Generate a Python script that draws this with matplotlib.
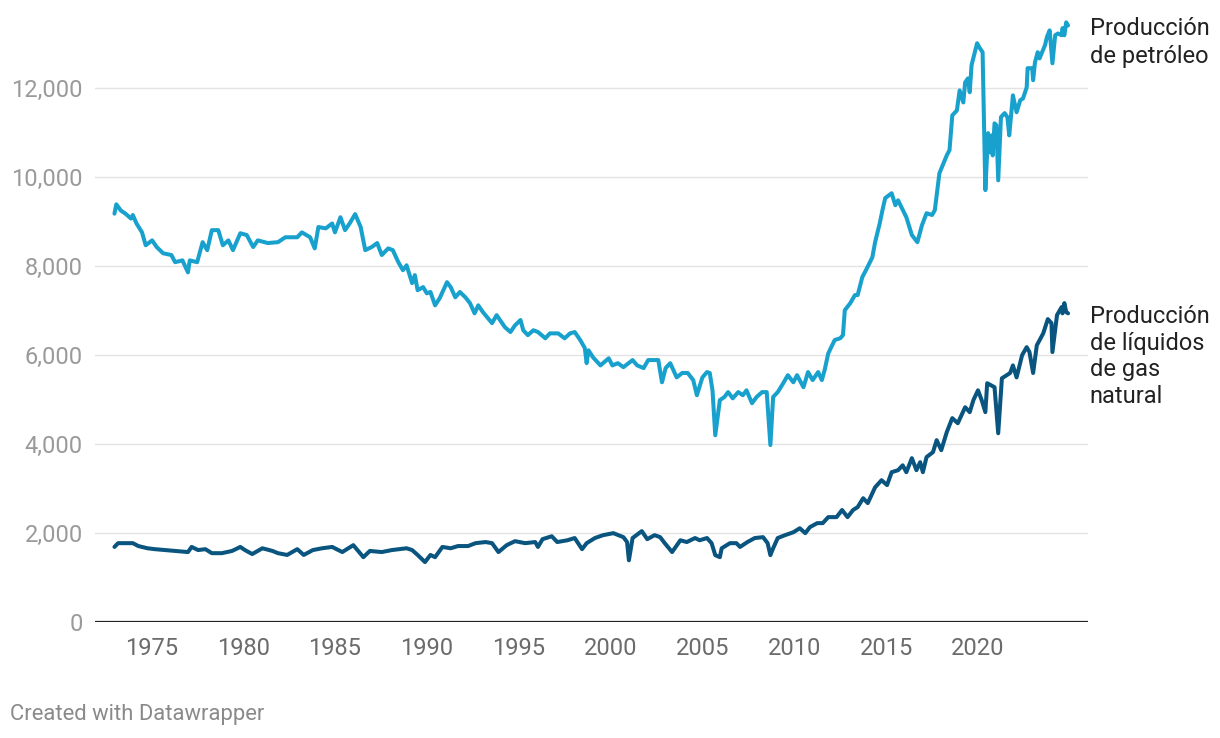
import matplotlib.pyplot as plt
from matplotlib.ticker import FuncFormatter

# Producción mensual (miles de barriles por día)
anios_petroleo = [
    1973.0, 1973.1, 1973.35, 1973.6, 1973.9, 1974.0, 1974.2, 1974.5, 1974.7,
    1975.05, 1975.3, 1975.65, 1976.1, 1976.3, 1976.7, 1977.0, 1977.1, 1977.5,
    1977.8, 1978.05, 1978.3, 1978.65, 1978.9, 1979.2, 1979.45, 1979.85,
    1980.2, 1980.55, 1980.8, 1981.35, 1981.9, 1982.3, 1982.95, 1983.2,
    1983.65, 1983.9, 1984.1, 1984.5, 1984.85, 1985.0, 1985.3, 1985.55,
    1985.8, 1986.1, 1986.4, 1986.65, 1987.0, 1987.3, 1987.55, 1987.9,
    1988.15, 1988.45, 1988.7, 1988.9, 1989.2, 1989.35, 1989.5, 1989.8,
    1990.0, 1990.2, 1990.45, 1990.7, 1991.1, 1991.3, 1991.55, 1991.8,
    1992.1, 1992.35, 1992.6, 1992.8, 1993.05, 1993.55, 1993.8, 1994.25,
    1994.55, 1994.8, 1995.1, 1995.25, 1995.5, 1995.8, 1996.05, 1996.45,
    1996.7, 1997.15, 1997.5, 1997.8, 1998.05, 1998.35, 1998.6, 1998.7,
    1998.8, 1999.05, 1999.45, 1999.9, 2000.1, 2000.4, 2000.7, 2001.2,
    2001.45, 2001.8, 2002.05, 2002.6, 2002.8, 2003.0, 2003.25, 2003.6,
    2003.9, 2004.2, 2004.5, 2004.7, 2005.0, 2005.25, 2005.4, 2005.55,
    2005.7, 2005.95, 2006.2, 2006.4, 2006.65, 2006.95, 2007.2, 2007.4,
    2007.7, 2007.95, 2008.25, 2008.5, 2008.7, 2008.85, 2009.1, 2009.4,
    2009.65, 2009.95, 2010.15, 2010.5, 2010.75, 2011.0, 2011.3, 2011.5,
    2011.65, 2011.85, 2012.2, 2012.5, 2012.65, 2012.75, 2013.05, 2013.3,
    2013.45, 2013.7, 2013.95, 2014.25, 2014.4, 2014.65, 2014.8, 2014.95,
    2015.3, 2015.5, 2015.65, 2016.1, 2016.4, 2016.7, 2016.95, 2017.2,
    2017.5, 2017.65, 2017.9, 2018.3, 2018.45, 2018.6, 2018.85, 2019.0,
    2019.2, 2019.3, 2019.45, 2019.55, 2019.65, 2019.95, 2020.1, 2020.25,
    2020.4, 2020.55, 2020.65, 2020.75, 2020.8, 2020.9, 2021.0, 2021.1,
    2021.25, 2021.45, 2021.6, 2021.7, 2021.9, 2022.1, 2022.3, 2022.45,
    2022.65, 2022.7, 2022.95, 2023.0, 2023.1, 2023.25, 2023.35, 2023.65,
    2023.75, 2023.9, 2024.05, 2024.2, 2024.35, 2024.55, 2024.6, 2024.7,
    2024.8, 2024.9,
]
petroleo = [
    9180, 9390, 9250, 9180, 9070, 9150, 8960, 8760, 8470,
    8580, 8430, 8290, 8250, 8090, 8130, 7860, 8130, 8090,
    8540, 8360, 8810, 8810, 8470, 8580, 8360, 8740,
    8700, 8430, 8580, 8520, 8540, 8650, 8650, 8760,
    8650, 8400, 8880, 8850, 8960, 8760, 9100, 8810,
    8960, 9170, 8880, 8360, 8430, 8520, 8250, 8400,
    8360, 8090, 7910, 8020, 7620, 7800, 7460, 7530,
    7390, 7420, 7120, 7280, 7640, 7530, 7300, 7420,
    7300, 7170, 6940, 7120, 6970, 6720, 6900, 6630,
    6520, 6670, 6790, 6560, 6450, 6560, 6520, 6380,
    6490, 6490, 6380, 6490, 6520, 6340, 6160, 5820,
    6110, 5950, 5770, 5930, 5770, 5820, 5730, 5890,
    5770, 5710, 5890, 5890, 5390, 5710, 5820, 5500,
    5600, 5600, 5440, 5100, 5500, 5620, 5600, 5210,
    4200, 4990, 5060, 5170, 5030, 5170, 5100, 5210,
    4920, 5060, 5170, 5170, 3980, 5060, 5170, 5370,
    5550, 5390, 5550, 5280, 5620, 5440, 5620, 5440,
    5660, 6040, 6340, 6380, 6450, 7010, 7170, 7350,
    7350, 7750, 7950, 8200, 8540, 8960, 9260, 9530,
    9640, 9370, 9480, 9100, 8700, 8540, 8920, 9190,
    9150, 9260, 10090, 10490, 10610, 11390, 11500, 11950,
    11680, 12130, 12220, 11910, 12520, 13010, 12900, 12810,
    9710, 10990, 10560, 10940, 10490, 11210, 11170, 9930,
    11350, 11440, 11350, 10940, 11840, 11460, 11730, 11770,
    12020, 12450, 12450, 12180, 12580, 12810, 12670, 12970,
    13150, 13300, 12560, 13190, 13230, 13190, 13350, 13190,
    13480, 13410,
]

anios_liquidos = [
    1973.0, 1973.2, 1973.75, 1974.0, 1974.3, 1974.8, 1975.2, 1975.75,
    1976.3, 1977.0, 1977.2, 1977.55, 1977.95, 1978.3, 1978.85, 1979.4,
    1979.85, 1980.1, 1980.5, 1981.05, 1981.6, 1981.9, 1982.4, 1982.95,
    1983.3, 1983.8, 1984.3, 1984.85, 1985.4, 1986.0, 1986.55, 1986.9,
    1987.55, 1988.1, 1988.9, 1989.2, 1989.5, 1989.9, 1990.2, 1990.45,
    1990.85, 1991.3, 1991.7, 1992.25, 1992.65, 1993.2, 1993.55, 1993.9,
    1994.35, 1994.8, 1995.35, 1995.9, 1996.05, 1996.3, 1996.8, 1997.1,
    1997.65, 1998.05, 1998.45, 1998.7, 1999.15, 1999.6, 2000.15, 2000.7,
    2000.9, 2001.0, 2001.2, 2001.7, 2002.0, 2002.4, 2002.7, 2002.95,
    2003.35, 2003.8, 2004.15, 2004.6, 2004.85, 2005.25, 2005.5, 2005.7,
    2005.95, 2006.05, 2006.5, 2006.85, 2007.05, 2007.45, 2007.85, 2008.3,
    2008.55, 2008.7, 2008.85, 2009.1, 2009.5, 2009.95, 2010.3, 2010.6,
    2010.85, 2011.25, 2011.55, 2011.85, 2012.3, 2012.6, 2012.9, 2013.2,
    2013.45, 2013.75, 2014.0, 2014.4, 2014.75, 2015.05, 2015.3, 2015.65,
    2015.9, 2016.1, 2016.4, 2016.65, 2016.85, 2017.0, 2017.2, 2017.55,
    2017.75, 2018.0, 2018.3, 2018.6, 2018.9, 2019.3, 2019.55, 2019.75,
    2020.0, 2020.2, 2020.4, 2020.5, 2020.9, 2021.1, 2021.3, 2021.75,
    2021.9, 2022.1, 2022.4, 2022.65, 2022.8, 2023.0, 2023.2, 2023.55,
    2023.8, 2024.0, 2024.05, 2024.3, 2024.55, 2024.6, 2024.7, 2024.8,
    2024.9,
]
liquidos = [
    1690, 1775, 1775, 1775, 1710, 1660, 1640, 1620,
    1600, 1575, 1690, 1620, 1640, 1550, 1550, 1600,
    1690, 1620, 1530, 1660, 1600, 1550, 1510, 1640,
    1510, 1620, 1660, 1690, 1575, 1730, 1460, 1600,
    1575, 1620, 1660, 1620, 1510, 1350, 1510, 1460,
    1690, 1660, 1710, 1710, 1775, 1800, 1775, 1575,
    1730, 1820, 1775, 1800, 1690, 1865, 1930, 1800,
    1840, 1890, 1640, 1775, 1890, 1955, 2000, 1910,
    1800, 1390, 1890, 2045, 1865, 1955, 1910, 1775,
    1575, 1840, 1800, 1890, 1840, 1890, 1775, 1505,
    1460, 1660, 1775, 1775, 1690, 1800, 1890, 1910,
    1775, 1505, 1660, 1890, 1955, 2020, 2110, 2000,
    2135, 2225, 2225, 2360, 2360, 2520, 2360, 2520,
    2585, 2785, 2675, 3030, 3190, 3080, 3370, 3415,
    3525, 3370, 3685, 3415, 3595, 3370, 3710, 3820,
    4090, 3865, 4270, 4585, 4470, 4830, 4720, 4990,
    5210, 4990, 4720, 5370, 5280, 4245, 5480, 5600,
    5770, 5500, 6000, 6180, 6070, 5600, 6220, 6490,
    6810, 6720, 6070, 6900, 7080, 6940, 7170, 6970,
    6940,
]

marcas_y = [0, 2000, 4000, 6000, 8000, 10000, 12000]
marcas_x = [1975, 1980, 1985, 1990, 1995, 2000, 2005, 2010, 2015, 2020]

color_petroleo = '#18a1cd'
color_liquidos = '#09557f'

plt.rcParams['font.family'] = ['Roboto', 'DejaVu Sans']

fig = plt.figure(figsize=(12.2, 7.38), dpi=100)
ax = fig.add_axes([0.078, 0.157, 0.814, 0.832])

ax.plot(anios_petroleo, petroleo, color=color_petroleo, lw=2.9,
        solid_joinstyle='round', solid_capstyle='round', zorder=3)
ax.plot(anios_liquidos, liquidos, color=color_liquidos, lw=2.9,
        solid_joinstyle='round', solid_capstyle='round', zorder=3)

ax.set_xlim(1971.95, 2026.0)
ax.set_ylim(0, 13800)

ax.set_yticks(marcas_y)
ax.yaxis.set_major_formatter(FuncFormatter(lambda v, p: f'{v:,.0f}'))
ax.set_xticks(marcas_x)
ax.tick_params(axis='y', length=0, pad=9, labelsize=17, labelcolor='#9a9a9a')
ax.tick_params(axis='x', length=0, pad=11, labelsize=17, labelcolor='#6b6b6b')

ax.grid(axis='y', color='#e3e3e3', lw=1.0, zorder=0)
ax.axhline(0, color='#222222', lw=1.6, zorder=4)
for lado in ax.spines.values():
    lado.set_visible(False)

# etiquetas al final de cada línea
ax.annotate('Producción\nde petróleo', xy=(1.0, petroleo[-1]),
            xycoords=('axes fraction', 'data'), xytext=(1, 6),
            textcoords='offset points', ha='left', va='top',
            fontsize=17, color='#222222', linespacing=1.28)
ax.annotate('Producción\nde líquidos\nde gas\nnatural', xy=(1.0, liquidos[-1]),
            xycoords=('axes fraction', 'data'), xytext=(1, 6),
            textcoords='offset points', ha='left', va='top',
            fontsize=17, color='#222222', linespacing=1.2)

fig.text(0.008, 0.032, 'Created with Datawrapper', fontsize=15.8,
         color='#8a8a8a', ha='left', va='center')

fig.savefig('out.png', dpi=100)
